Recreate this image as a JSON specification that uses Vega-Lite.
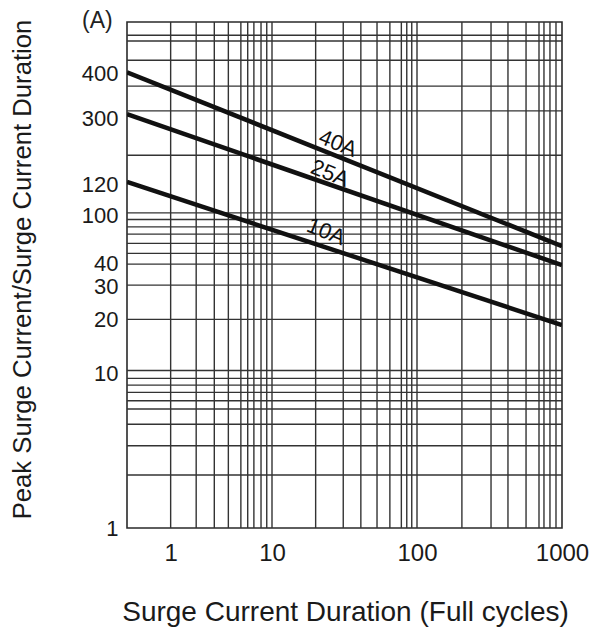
{
  "$schema": "https://vega.github.io/schema/vega-lite/v6.json",
  "width": 435,
  "height": 506,
  "autosize": "none",
  "padding": {"left": 127, "top": 22, "right": 40, "bottom": 107},
  "background": "white",
  "config": {
    "view": {"stroke": "#2a2a2a", "strokeWidth": 1.6},
    "font": "Liberation Sans",
    "axis": {
      "grid": false, "ticks": false, "tickSize": 0, "domain": false,
      "labelFont": "Liberation Sans", "labelFontSize": 24, "labelColor": "#1a1a1a",
      "labelFlush": false, "labelOverlap": false,
      "titleFont": "Liberation Sans", "titleFontWeight": "normal", "titleColor": "#1a1a1a"
    }
  },
  "title": {
    "text": "(A)",
    "anchor": "start",
    "frame": "group",
    "dx": -45,
    "offset": -14,
    "fontSize": 23,
    "fontWeight": "normal",
    "color": "#222222",
    "font": "Liberation Sans"
  },
  "datasets": {
    "grid_x": [
      {"cycles": 2}, {"cycles": 3}, {"cycles": 4}, {"cycles": 5}, {"cycles": 6.1},
      {"cycles": 6.8}, {"cycles": 7.5}, {"cycles": 8.4}, {"cycles": 9.2}, {"cycles": 10},
      {"cycles": 20}, {"cycles": 31}, {"cycles": 41}, {"cycles": 53}, {"cycles": 65},
      {"cycles": 78}, {"cycles": 85}, {"cycles": 92}, {"cycles": 100},
      {"cycles": 204}, {"cycles": 324}, {"cycles": 424}, {"cycles": 565}, {"cycles": 694},
      {"cycles": 751}, {"cycles": 826}, {"cycles": 909}
    ],
    "grid_y": [
      {"current": 2.17}, {"current": 3.33}, {"current": 4.55}, {"current": 5.69},
      {"current": 6.42}, {"current": 7.26}, {"current": 8.07}, {"current": 8.91},
      {"current": 10}, {"current": 21.1}, {"current": 34.8}, {"current": 47.3},
      {"current": 55.3}, {"current": 64}, {"current": 73.3}, {"current": 81.5},
      {"current": 90.8}, {"current": 100}, {"current": 232}, {"current": 444},
      {"current": 637}, {"current": 930}, {"current": 1233}, {"current": 1340}
    ],
    "curves": [
      {"series": "40A", "cycles": 1, "current": 781},
      {"series": "40A", "cycles": 1000, "current": 61.5},
      {"series": "25A", "cycles": 1, "current": 423},
      {"series": "25A", "cycles": 1000, "current": 46.6},
      {"series": "10A", "cycles": 1, "current": 157},
      {"series": "10A", "cycles": 1000, "current": 19.4}
    ],
    "labels": [
      {"label": "40A", "cycles": 28.5, "current": 276},
      {"label": "25A", "cycles": 25.1, "current": 178},
      {"label": "10A", "cycles": 23.6, "current": 76}
    ]
  },
  "layer": [
    {
      "data": {"name": "grid_x"},
      "mark": {"type": "rule", "color": "#333333", "strokeWidth": 1.4},
      "encoding": {
        "x": {
          "field": "cycles", "type": "quantitative",
          "scale": {"type": "log", "domain": [1, 1000], "nice": false},
          "axis": {
            "title": "Surge Current Duration (Full cycles)",
            "values": [2, 10, 100, 1000],
            "labelExpr": "datum.value < 5 ? '1' : datum.value < 50 ? '10' : datum.value < 500 ? '100' : '1000'",
            "labelPadding": 13, "titleFontSize": 28,
            "titleX": 218, "titleY": 84, "titleAlign": "center", "titleBaseline": "middle"
          }
        }
      }
    },
    {
      "data": {"name": "grid_y"},
      "mark": {"type": "rule", "color": "#333333", "strokeWidth": 1.4},
      "encoding": {
        "y": {
          "field": "current", "type": "quantitative",
          "scale": {"type": "log", "domain": [1, 1627], "nice": false},
          "axis": {
            "title": "Peak Surge Current/Surge Current Duration",
            "values": [1, 9.5, 20.9, 34.3, 47.8, 96, 152, 399, 772],
            "labelExpr": "datum.value < 2 ? '1' : datum.value < 15 ? '10' : datum.value < 30 ? '20' : datum.value < 40 ? '30' : datum.value < 60 ? '40' : datum.value < 120 ? '100' : datum.value < 200 ? '120' : datum.value < 500 ? '300' : '400'",
            "labelPadding": 9, "labelFontSize": 22, "titleFontSize": 25.7,
            "titleX": -105, "titleY": 247, "titleAlign": "center", "titleBaseline": "middle", "titleAngle": -90
          }
        }
      }
    },
    {
      "data": {"name": "curves"},
      "mark": {"type": "line", "color": "#111111", "strokeWidth": 4.5, "clip": true},
      "encoding": {
        "x": {
          "field": "cycles", "type": "quantitative",
          "scale": {"type": "log", "domain": [1, 1000], "nice": false},
          "axis": {
            "title": "Surge Current Duration (Full cycles)",
            "values": [2, 10, 100, 1000],
            "labelExpr": "datum.value < 5 ? '1' : datum.value < 50 ? '10' : datum.value < 500 ? '100' : '1000'",
            "labelPadding": 13, "titleFontSize": 28,
            "titleX": 218, "titleY": 84, "titleAlign": "center", "titleBaseline": "middle"
          }
        },
        "y": {
          "field": "current", "type": "quantitative",
          "scale": {"type": "log", "domain": [1, 1627], "nice": false},
          "axis": {
            "title": "Peak Surge Current/Surge Current Duration",
            "values": [1, 9.5, 20.9, 34.3, 47.8, 96, 152, 399, 772],
            "labelExpr": "datum.value < 2 ? '1' : datum.value < 15 ? '10' : datum.value < 30 ? '20' : datum.value < 40 ? '30' : datum.value < 60 ? '40' : datum.value < 120 ? '100' : datum.value < 200 ? '120' : datum.value < 500 ? '300' : '400'",
            "labelPadding": 9, "labelFontSize": 22, "titleFontSize": 25.7,
            "titleX": -105, "titleY": 247, "titleAlign": "center", "titleBaseline": "middle", "titleAngle": -90
          }
        },
        "detail": {"field": "series", "type": "nominal"}
      }
    },
    {
      "data": {"name": "labels"},
      "mark": {"type": "text", "fontSize": 22, "angle": 22, "color": "#111111", "align": "center", "baseline": "middle", "font": "Liberation Sans"},
      "encoding": {
        "x": {
          "field": "cycles", "type": "quantitative",
          "scale": {"type": "log", "domain": [1, 1000], "nice": false},
          "axis": {
            "title": "Surge Current Duration (Full cycles)",
            "values": [2, 10, 100, 1000],
            "labelExpr": "datum.value < 5 ? '1' : datum.value < 50 ? '10' : datum.value < 500 ? '100' : '1000'",
            "labelPadding": 13, "titleFontSize": 28,
            "titleX": 218, "titleY": 84, "titleAlign": "center", "titleBaseline": "middle"
          }
        },
        "y": {
          "field": "current", "type": "quantitative",
          "scale": {"type": "log", "domain": [1, 1627], "nice": false},
          "axis": {
            "title": "Peak Surge Current/Surge Current Duration",
            "values": [1, 9.5, 20.9, 34.3, 47.8, 96, 152, 399, 772],
            "labelExpr": "datum.value < 2 ? '1' : datum.value < 15 ? '10' : datum.value < 30 ? '20' : datum.value < 40 ? '30' : datum.value < 60 ? '40' : datum.value < 120 ? '100' : datum.value < 200 ? '120' : datum.value < 500 ? '300' : '400'",
            "labelPadding": 9, "labelFontSize": 22, "titleFontSize": 25.7,
            "titleX": -105, "titleY": 247, "titleAlign": "center", "titleBaseline": "middle", "titleAngle": -90
          }
        },
        "text": {"field": "label", "type": "nominal"}
      }
    }
  ]
}
